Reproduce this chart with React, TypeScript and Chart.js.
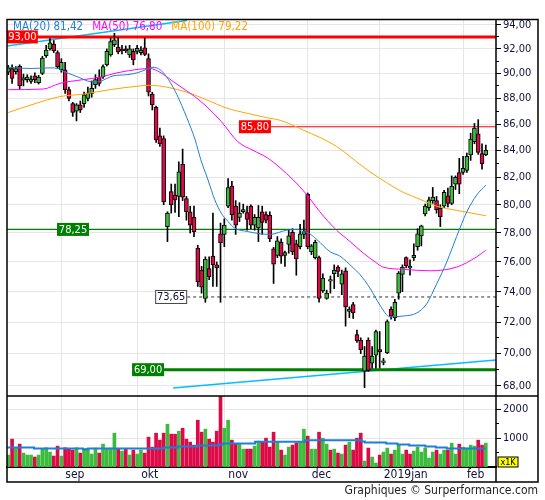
import React, { useEffect, useRef } from 'react';
import { Chart, registerables } from 'chart.js';

Chart.register(...registerables);

// ---------- data ----------
const opens = [
  90.1, 90.4, 90.15, 90.6, 89.45, 89.5, 89.35, 89.8, 89.25, 90.0,
  91.45, 92.0, 92.4, 91.7, 90.3, 90.3, 88.7, 87.6, 87.0, 87.5,
  87.6, 88.0, 88.4, 89.1, 89.7, 89.75, 90.7, 91.5, 92.35, 92.15,
  91.85, 92.0, 91.5, 91.8, 91.8, 91.7, 92.1, 91.2, 88.35, 87.3,
  85.1, 84.9, 78.45, 80.95, 80.7, 80.6, 82.95, 80.45, 79.5, 79.1,
  76.95, 75.45, 73.55, 75.55, 76.4, 75.8, 77.95, 77.9, 79.9, 81.35,
  79.9, 79.1, 79.5, 79.45, 79.9, 78.55, 78.35, 79.5, 79.3, 79.25,
  76.9, 76.45, 77.35, 76.45, 77.2, 78.05, 77.25, 77.05, 77.9, 80.75,
  76.7, 76.3, 76.3, 74.05, 73.55, 74.7, 75.2, 75.65, 74.5, 75.4,
  72.7, 73.15, 71.2, 70.85, 68.9, 70.85, 69.4, 69.9, 70.25, 69.45,
  70.05, 72.85, 72.3, 73.9, 75.15, 76.3, 75.6, 76.3, 77.05, 77.8,
  79.35, 79.8, 80.3, 80.3, 79.75, 79.9, 80.65, 80.1, 81.5, 82.35,
  82.35, 82.5, 83.65, 84.65, 85.25, 83.75, 83.65,
];
const highs = [
  90.65, 90.7, 90.55, 90.7, 89.95, 89.9, 89.8, 90.05, 89.85, 91.4,
  92.3, 92.85, 92.7, 91.85, 91.2, 90.9, 88.9, 87.7, 87.6, 87.8,
  88.5, 88.9, 89.4, 89.9, 90.3, 90.7, 92.0, 92.9, 93.3, 92.95,
  92.3, 92.25, 92.3, 92.0, 92.3, 92.2, 92.9, 91.6, 88.5, 87.4,
  85.7, 85.1, 79.5, 81.5, 81.5, 83.15, 84.1, 80.6, 79.9, 79.9,
  77.15, 75.7, 76.35, 76.35, 79.4, 76.0, 78.7, 79.0, 81.9, 81.7,
  80.3, 80.15, 80.05, 79.9, 80.0, 79.3, 79.95, 79.9, 79.5, 79.5,
  77.0, 77.75, 77.6, 76.75, 78.25, 78.3, 77.5, 78.6, 78.9, 80.85,
  77.2, 77.5, 76.4, 75.2, 74.1, 75.05, 75.8, 75.75, 75.45, 75.6,
  73.0, 73.3, 71.5, 71.0, 70.45, 71.0, 70.45, 71.5, 71.4, 69.7,
  72.15, 73.0, 73.5, 75.35, 75.8, 76.35, 76.15, 77.25, 78.3, 78.55,
  80.05, 80.55, 81.25, 80.6, 80.0, 81.05, 81.2, 82.1, 82.1, 83.4,
  83.55, 83.8, 85.3, 86.05, 86.35, 84.5, 84.4,
];
const lows = [
  89.9, 89.2, 89.95, 88.75, 89.0, 89.3, 89.2, 89.25, 89.15, 89.9,
  91.3, 91.9, 91.7, 90.4, 90.1, 88.4, 87.8, 86.6, 86.25, 86.9,
  87.3, 87.8, 88.1, 88.8, 89.0, 89.6, 90.6, 91.4, 92.2, 91.6,
  91.6, 91.7, 91.3, 90.7, 91.6, 91.5, 91.45, 88.2, 87.1, 84.6,
  84.3, 80.0, 77.4, 79.4, 79.45, 79.15, 80.3, 78.9, 78.0, 77.75,
  74.35, 73.9, 73.3, 74.8, 74.35, 74.35, 73.3, 77.05, 79.8, 78.9,
  77.9, 78.8, 79.4, 78.2, 78.3, 78.2, 77.4, 77.9, 78.7, 77.4,
  74.55, 76.3, 75.9, 75.7, 76.6, 76.5, 75.1, 76.9, 77.6, 76.9,
  76.5, 76.2, 73.3, 73.95, 73.5, 73.9, 74.2, 75.0, 73.8, 71.75,
  72.3, 72.25, 70.7, 70.0, 67.9, 68.9, 69.1, 69.1, 69.1, 69.3,
  70.0, 72.2, 72.1, 73.5, 74.0, 75.6, 75.1, 76.1, 76.8, 77.1,
  79.2, 79.6, 80.1, 79.4, 78.45, 79.8, 79.85, 80.0, 81.1, 80.8,
  82.2, 82.35, 83.25, 84.5, 83.7, 82.6, 83.6,
];
const closes = [
  90.45, 89.6, 90.4, 89.0, 89.65, 89.7, 89.55, 89.5, 89.7, 91.25,
  91.9, 92.5, 91.85, 90.55, 90.9, 88.7, 88.0, 86.9, 87.5, 87.1,
  88.3, 88.45, 88.8, 89.5, 89.2, 90.55, 91.8, 92.6, 92.75, 91.75,
  91.95, 91.85, 92.0, 91.1, 92.05, 91.9, 91.55, 88.5, 87.5, 84.8,
  84.5, 80.2, 79.4, 80.0, 80.35, 82.4, 80.55, 79.5, 78.55, 78.1,
  74.65, 74.3, 76.2, 75.0, 75.8, 75.6, 77.3, 78.55, 81.25, 79.3,
  78.55, 79.4, 79.65, 78.95, 78.55, 79.1, 79.1, 78.75, 78.9, 77.6,
  75.85, 77.45, 76.4, 76.65, 77.8, 76.7, 76.2, 77.95, 78.1, 77.05,
  77.1, 77.35, 73.55, 74.9, 73.9, 74.75, 75.45, 75.35, 75.2, 73.0,
  72.85, 72.6, 70.8, 70.25, 69.85, 68.95, 69.85, 71.4, 70.1, 69.5,
  72.05, 72.4, 73.3, 75.25, 75.65, 75.75, 75.7, 76.45, 77.95, 78.5,
  79.9, 80.35, 80.55, 79.65, 79.15, 80.9, 80.1, 81.35, 82.0, 81.5,
  82.65, 83.55, 84.85, 85.7, 83.85, 83.0, 84.0,
];
const volumes = [
  414, 965, 666, 793, 483, 414, 414, 345, 414, 620,
  666, 517, 379, 724, 379, 666, 620, 586, 666, 483,
  643, 643, 448, 655, 483, 793, 620, 655, 1172, 620,
  552, 620, 414, 586, 448, 586, 483, 1034, 689, 1172,
  931, 1172, 1482, 1138, 1138, 1241, 1344, 965, 862, 758,
  1620, 1206, 1310, 965, 862, 1241, 2450, 1344, 1620, 931,
  793, 793, 620, 620, 620, 724, 896, 862, 1000, 689,
  1206, 862, 586, 414, 689, 758, 827, 862, 1310, 1069,
  620, 620, 1206, 1000, 793, 586, 620, 483, 448, 758,
  862, 586, 1000, 1172, 207, 655, 345, 138, 414, 517,
  655, 448, 586, 758, 448, 586, 448, 552, 689, 517,
  655, 310, 517, 586, 448, 586, 586, 827, 448, 793,
  689, 655, 758, 724, 931, 758, 827,
];
// 1 = green volume bar, 0 = red volume bar
const volUp = [
  1, 0, 1, 0, 1, 1, 1, 0, 1, 1,
  1, 1, 0, 0, 1, 0, 0, 0, 1, 0,
  1, 1, 1, 1, 0, 1, 1, 1, 1, 0,
  1, 0, 1, 0, 1, 1, 0, 0, 0, 0,
  0, 0, 1, 0, 0, 1, 0, 0, 0, 0,
  0, 0, 1, 0, 0, 0, 0, 1, 1, 0,
  0, 1, 1, 0, 0, 1, 1, 0, 0, 0,
  0, 1, 0, 1, 1, 0, 0, 1, 1, 0,
  1, 1, 0, 1, 1, 0, 1, 0, 1, 0,
  1, 0, 0, 0, 1, 0, 1, 1, 0, 1,
  1, 0, 1, 1, 1, 0, 0, 1, 1, 1,
  1, 1, 1, 0, 1, 1, 0, 1, 1, 0,
  1, 1, 1, 1, 0, 0, 1,
];
// moving averages: [candle index, value]
const ma20 = [
  [0, 90.5], [5.7, 90.4], [11, 90.45], [13.1, 90.4], [14.4, 90.2], [16.8, 89.9], [18.9, 89.65],
  [20.8, 89.4], [22.9, 89.3], [24.2, 89.35], [26, 89.6], [27.6, 89.8], [31.3, 89.9], [34, 90.05],
  [36.6, 90.35], [37.9, 90.5], [39.2, 90.45], [40.8, 90.1], [42.7, 89.3], [44.5, 88.3], [47.1, 86.5],
  [49.3, 84.8], [50.8, 83.3], [52.7, 81.8], [54.5, 80.35], [56.2, 79.4], [58, 78.8], [59.7, 78.35],
  [63.2, 78.1], [66.4, 77.95], [69, 77.9], [73.5, 78.2], [76.1, 78.25], [77.8, 78.1], [79.2, 78.0],
  [81.4, 77.55], [84.9, 76.7], [87.5, 76.4], [91, 75.6], [92.8, 75.15], [95.4, 74.25], [98.1, 73.1],
  [100.7, 72.35], [104.2, 72.4], [107.8, 72.6], [110.4, 73.2], [113, 74.5], [115.7, 76.0],
  [118.3, 77.75], [121, 79.5], [123.6, 80.7], [126, 81.42],
];
const ma50 = [
  [0, 88.7], [9.2, 88.75], [13.6, 89.2], [19.7, 89.5], [24.2, 89.7], [28.7, 90.05], [34.7, 90.35],
  [37.4, 90.4], [40, 90.1], [43.5, 89.35], [47.1, 88.6], [49.2, 88.15], [52.4, 87.35], [56.2, 86.2],
  [60.6, 84.65], [64.6, 84.0], [68.3, 83.45], [71.7, 82.7], [75.2, 81.8], [78.7, 80.75], [82.2, 79.5],
  [86.6, 78.2], [90.2, 77.4], [93.7, 76.6], [96.8, 76.0], [98.9, 75.65], [104.2, 75.5], [111.3, 75.4],
  [118.3, 75.65], [123.6, 76.35], [126, 76.8],
];
const ma100 = [
  [0, 86.9], [6.6, 87.55], [13.6, 88.15], [19.8, 88.35], [26.8, 88.7], [34.8, 89.0], [37.4, 89.05],
  [41.8, 88.9], [47.1, 88.5], [52.3, 87.9], [57.6, 87.25], [62.9, 86.85], [68.2, 86.5], [71.7, 86.3],
  [77.8, 85.55], [86.6, 84.3], [93.7, 82.75], [99.8, 81.6], [104.2, 80.9], [108.6, 80.4], [113, 79.9],
  [118.3, 79.6], [126, 79.22],
];
// volume average (step starts)
const volMA = [
  [0, 712], [6.8, 678], [19.7, 643], [21, 609], [41, 643], [44.8, 678], [49.9, 712], [55.5, 747],
  [56.7, 781], [65.1, 816], [78.3, 874], [93.3, 931], [94.1, 885], [99.7, 850], [102.7, 816],
  [105.8, 781], [110, 747], [112.8, 712], [115.7, 678], [118, 643], [126, 643],
];
// trend lines [index, price]
const trendUpper = [[-0.34, 92.25], [47.15, 94.38]];
const trendLower = [[43.5, 67.88], [128.69, 69.6]];
// horizontal levels
const levelValues = [93.0, 85.8, 78.25, 73.65, 69.0];
const levelStarts = [-0.34, 69.3, -0.34, 47.2, 41.1];
const levelLabelEnds = [7.8, 69.3, 21.3, 47.2, 41.1];
// axes
const monthTicks = [14, 34, 57, 79, 98, 120];
const monthLabels = ['sep', 'okt', 'nov', 'dec', '2019jan', 'feb'];
const priceTicks = [68, 69, 70, 71, 72, 73, 74, 75, 76, 77, 78, 79, 80, 81, 82, 83, 84, 85, 86, 87, 88, 89, 90, 91, 92, 93, 94];
const volTicks = [500, 1000, 1500, 2000];
const legendItems = ['MA(20) 81,42', 'MA(50) 76,80', 'MA(100) 79,22'];
const footerText = 'Graphiques \u00a9 Surperformance.com';

// ---------- styles ----------
const FONT = "'DejaVu Sans Condensed', 'DejaVu Sans', sans-serif";
const XMIN = -0.34;
const XMAX = 128.69;
const PMIN = 67.39;
const PMAX = 94.42;
const VMAX = 2460;
const GREEN = '#3cbc3c';
const RED = '#dc0a46';
const BLUE = '#1f7fd6';
const MAGENTA = '#ff00ff';
const ORANGE = '#ffa500';
const CYAN = '#00bfff';
const LVL_RED = '#ff0000';
const LVL_GREEN = '#008000';
const GRID = '#e6e6e6';
const TEXT = '#10103a';

const fmt = (v: number) => v.toFixed(2).replace('.', ',');

export default function App() {
  const ref = useRef<HTMLCanvasElement>(null);

  useEffect(() => {
    const canvas = ref.current;
    if (!canvas) return;
    Chart.defaults.font.family = FONT;

    const idx = opens.map((_, i) => i);
    const bodyData = idx.map((i) => ({ x: i, y: [opens[i], closes[i]] }));
    const wickData = idx.map((i) => ({ x: i, y: [lows[i], highs[i]] }));
    const bodyColors = idx.map((i) => (closes[i] >= opens[i] ? GREEN : RED));
    const volData = idx.map((i) => ({ x: i, y: volumes[i] }));
    const volColors = idx.map((i) => (volUp[i] ? GREEN : RED));
    const pts = (arr: number[][]) => arr.map(([x, y]) => ({ x, y }));

    const levelStyles = [
      { color: LVL_RED, width: 3, dash: [] as number[], bg: LVL_RED, fg: '#ffffff', border: '' },
      { color: LVL_RED, width: 1.2, dash: [], bg: LVL_RED, fg: '#ffffff', border: '' },
      { color: LVL_GREEN, width: 1.2, dash: [], bg: LVL_GREEN, fg: '#ffffff', border: '' },
      { color: '#333333', width: 1, dash: [3, 3], bg: '#ffffff', fg: '#10103a', border: '#444444' },
      { color: LVL_GREEN, width: 3, dash: [], bg: LVL_GREEN, fg: '#ffffff', border: '' },
    ];

    const levelDatasets = levelValues.map((v, k) => ({
      type: 'line',
      data: [{ x: levelStarts[k], y: v }, { x: XMAX, y: v }],
      borderColor: levelStyles[k].color,
      borderWidth: levelStyles[k].width,
      borderDash: levelStyles[k].dash,
      pointRadius: 0,
      yAxisID: 'y',
      order: 3,
    }));

    const lineDs = (data: number[][], color: string, width: number) => ({
      type: 'line',
      data: pts(data),
      borderColor: color,
      borderWidth: width,
      pointRadius: 0,
      cubicInterpolationMode: 'monotone',
      yAxisID: 'y',
      order: 0,
    });

    const framePlugin = {
      id: 'frame',
      afterDraw(chart: any) {
        const { ctx, chartArea: ca, scales } = chart;
        const outerRight = ca.right + 42;
        const top = ca.top - 0.5;
        const bottom = ca.bottom + 15;
        const split = scales.y.bottom;
        ctx.save();
        ctx.strokeStyle = '#000';
        ctx.lineWidth = 1.5;
        ctx.strokeRect(ca.left, top, outerRight - ca.left, bottom - top);
        ctx.beginPath();
        ctx.moveTo(ca.right, top);
        ctx.lineTo(ca.right, bottom);
        ctx.moveTo(ca.left, split);
        ctx.lineTo(outerRight, split);
        ctx.stroke();
        // x1K box
        ctx.fillStyle = '#ffff00';
        ctx.fillRect(ca.right + 2, ca.bottom - 10, 20, 10);
        ctx.lineWidth = 1;
        ctx.strokeRect(ca.right + 2, ca.bottom - 10, 20, 10);
        ctx.fillStyle = '#000';
        ctx.font = `9px ${FONT}`;
        ctx.textAlign = 'center';
        ctx.textBaseline = 'middle';
        ctx.fillText('x1K', ca.right + 12, ca.bottom - 4.5);
        // footer
        ctx.font = `12px ${FONT}`;
        ctx.textAlign = 'right';
        ctx.textBaseline = 'middle';
        ctx.fillStyle = '#222';
        ctx.fillText(footerText, outerRight, bottom + 9);
        // legend
        ctx.font = `11.5px ${FONT}`;
        ctx.textAlign = 'left';
        const colors = [BLUE, MAGENTA, ORANGE];
        let lx = ca.left + 6;
        legendItems.forEach((t, k) => {
          ctx.fillStyle = colors[k];
          ctx.fillText(t, lx, ca.top + 7);
          lx += ctx.measureText(t).width + 9;
        });
        ctx.restore();
      },
    };

    const labelPlugin = {
      id: 'levelLabels',
      afterDatasetsDraw(chart: any) {
        const { ctx, chartArea: ca, scales } = chart;
        ctx.save();
        ctx.font = `11px ${FONT}`;
        ctx.textAlign = 'center';
        ctx.textBaseline = 'middle';
        levelValues.forEach((v, k) => {
          const st = levelStyles[k];
          const right = scales.x.getPixelForValue(levelLabelEnds[k]);
          const left = Math.max(ca.left, right - 32);
          const yc = scales.y.getPixelForValue(v);
          ctx.fillStyle = st.bg;
          ctx.fillRect(left, yc - 6.5, right - left, 13);
          if (st.border) {
            ctx.strokeStyle = st.border;
            ctx.lineWidth = 1;
            ctx.strokeRect(left + 0.5, yc - 6.5, right - left - 1, 13);
          }
          ctx.fillStyle = st.fg;
          ctx.fillText(fmt(v), (left + right) / 2, yc + 0.5);
        });
        ctx.restore();
      },
    };

    const chart = new Chart(canvas, {
      type: 'bar',
      data: {
        datasets: [
          lineDs(ma20, BLUE, 1),
          lineDs(ma50, MAGENTA, 1),
          lineDs(ma100, ORANGE, 1),
          {
            type: 'bar',
            data: bodyData,
            backgroundColor: bodyColors,
            borderColor: '#000',
            borderWidth: 1,
            borderSkipped: false,
            barThickness: 4,
            minBarLength: 1.5,
            grouped: false,
            yAxisID: 'y',
            order: 1,
          },
          {
            type: 'bar',
            data: wickData,
            backgroundColor: '#000',
            borderWidth: 0,
            barThickness: 1,
            grouped: false,
            yAxisID: 'y',
            order: 2,
          },
          ...levelDatasets,
          { type: 'line', data: pts(trendUpper), borderColor: CYAN, borderWidth: 1.5, pointRadius: 0, yAxisID: 'y', order: 3 },
          { type: 'line', data: pts(trendLower), borderColor: CYAN, borderWidth: 1.5, pointRadius: 0, yAxisID: 'y', order: 3 },
          {
            type: 'bar',
            data: volData,
            backgroundColor: volColors,
            borderWidth: 0,
            barThickness: 3,
            grouped: false,
            yAxisID: 'v',
            order: 5,
          },
          {
            type: 'line',
            data: pts(volMA),
            borderColor: BLUE,
            borderWidth: 2,
            pointRadius: 0,
            stepped: 'after',
            yAxisID: 'v',
            order: 0,
          },
        ] as any,
      },
      options: {
        responsive: false,
        animation: false,
        events: [],
        layout: { padding: { left: 7, top: 20, right: 7, bottom: 18 } },
        plugins: { legend: { display: false }, tooltip: { enabled: false } },
        scales: {
          x: {
            type: 'linear',
            position: 'bottom',
            min: XMIN,
            max: XMAX,
            bounds: 'data',
            offset: false,
            grid: { color: GRID, drawTicks: false, offset: false },
            border: { display: true, color: '#000', width: 2 },
            afterBuildTicks: (s: any) => {
              s.ticks = monthTicks.map((v) => ({ value: v }));
            },
            afterFit: (s: any) => {
              s.height = 15;
            },
            ticks: {
              autoSkip: false,
              maxRotation: 0,
              align: 'start',
              labelOffset: 4,
              padding: 1,
              color: TEXT,
              font: { family: FONT, size: 12 },
              callback: (v: any) => {
                const k = monthTicks.indexOf(Number(v));
                return k >= 0 ? monthLabels[k] : '';
              },
            },
          },
          y: {
            type: 'logarithmic',
            position: 'right',
            stack: 'panels',
            stackWeight: 376,
            min: PMIN,
            max: PMAX,
            bounds: 'data',
            afterBuildTicks: (s: any) => {
              s.ticks = priceTicks.map((v) => ({ value: v }));
            },
            afterFit: (s: any) => {
              s.width = 42;
            },
            grid: {
              color: (c: any) => (c.tick && c.tick.value % 2 === 0 ? GRID : 'rgba(0,0,0,0)'),
              tickColor: '#000',
              tickLength: 5,
              tickBorderDash: (c: any) => (c.tick && c.tick.value % 2 === 0 ? [] : [3, 20]),
            },
            border: { display: false },
            ticks: {
              autoSkip: false,
              padding: 2,
              color: TEXT,
              font: { family: FONT, size: 11 },
              callback: (v: any) => (Number(v) % 2 === 0 ? fmt(Number(v)) : ''),
            },
          },
          v: {
            type: 'linear',
            position: 'right',
            stack: 'panels',
            stackWeight: 71,
            min: 0,
            max: VMAX,
            bounds: 'data',
            afterBuildTicks: (s: any) => {
              s.ticks = volTicks.map((v) => ({ value: v }));
            },
            afterFit: (s: any) => {
              s.width = 42;
            },
            grid: {
              color: (c: any) => (c.tick && c.tick.value % 1000 === 0 ? GRID : 'rgba(0,0,0,0)'),
              tickColor: '#000',
              tickLength: 5,
              tickBorderDash: (c: any) => (c.tick && c.tick.value % 1000 === 0 ? [] : [3, 20]),
            },
            border: { display: false },
            ticks: {
              autoSkip: false,
              padding: 2,
              color: TEXT,
              font: { family: FONT, size: 11 },
              callback: (v: any) => (Number(v) % 1000 === 0 ? String(v) : ''),
            },
          },
        },
      } as any,
      plugins: [labelPlugin, framePlugin],
    });
    return () => chart.destroy();
  }, []);

  return (
    <div style={{ position: 'absolute', left: 0, top: 0, width: 545, height: 500, background: '#ffffff' }}>
      <canvas ref={ref} width={545} height={500} style={{ display: 'block' }} />
    </div>
  );
}
